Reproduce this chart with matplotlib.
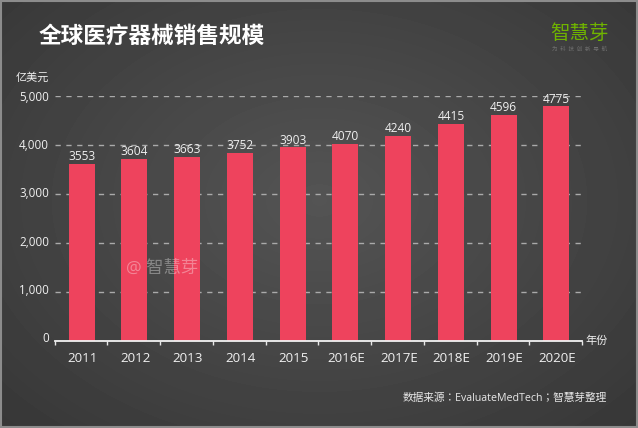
#!/usr/bin/env python3
import numpy as np
import matplotlib
matplotlib.use("Agg")
import matplotlib.pyplot as plt
from matplotlib.transforms import ScaledTranslation

plt.rcParams['font.family'] = ['Open Sans', 'Noto Sans CJK SC', 'DejaVu Sans']

years = ['2011', '2012', '2013', '2014', '2015', '2016E', '2017E', '2018E', '2019E', '2020E']
bar_heights = [3610, 3710, 3760, 3840, 3950, 4025, 4188, 4434, 4611, 4789]
bar_labels = ['3553', '3604', '3663', '3752', '3903', '4070', '4240', '4415', '4596', '4775']
y_ticks = [0, 1000, 2000, 3000, 4000, 5000]

W, H = 638, 428
fig = plt.figure(figsize=(W / 100, H / 100), dpi=100)

# background, radial grey gradient
bg = fig.add_axes([0, 0, 1, 1])
yy, xx = np.mgrid[0:H, 0:W]
r = np.sqrt(((xx - 319) / 319.0) ** 2 + ((yy - 200) / 228.0) ** 2) / 1.414
grey = 0.33 - 0.115 * np.clip(r, 0, 1)
bg.imshow(grey, cmap='gray', vmin=0, vmax=1, aspect='auto', extent=[0, W, H, 0])
bg.set_xlim(0, W)
bg.set_ylim(H, 0)
bg.axis('off')
bg.add_patch(plt.Rectangle((1, 1), W - 2, H - 2, fill=False, ec='#8c8c8c', lw=1.5))

ax = fig.add_axes([54.5 / W, 1 - 340.5 / H, (582 - 54.5) / W, (340.5 - 96) / H])
ax.patch.set_alpha(0)
x = np.arange(len(years))
ax.set_xlim(-0.5, len(years) - 0.5)
ax.set_ylim(0, 5000)
ax.set_yticks(y_ticks)
ax.set_yticklabels(['{:,}'.format(v) for v in y_ticks], color='#f0f0f0', fontsize=8.4)
ax.tick_params(axis='y', length=0, pad=4)
ax.set_axisbelow(True)
ax.yaxis.grid(True, color='#aaaaaa', lw=1, dashes=(3.8, 4))

# the value labels drift up a little towards the bottom of the scale
for v, lab in zip(y_ticks, ax.get_yticklabels()):
    lab.set_transform(lab.get_transform() + ScaledTranslation(0, (5000 - v) / 1000 * 0.7 / 100, fig.dpi_scale_trans))

bars = ax.bar(x + 0.015, bar_heights, width=0.49, color='#ee435d', zorder=3)
for b, lab in zip(bars, bar_labels):
    ax.annotate(lab, (b.get_x() + b.get_width() / 2, b.get_height()), xytext=(0, 0.5),
                textcoords='offset points', ha='center', va='bottom',
                color='#f0f0f0', fontsize=8.6, zorder=4)

ax.set_xticks(x + 0.03)
ax.set_xticklabels(years, color='#f0f0f0', fontsize=9.6)
ax.set_xticks(np.arange(-0.5, len(years)), minor=True)
ax.tick_params(axis='x', which='major', length=0, pad=8)
ax.tick_params(axis='x', which='minor', length=3, width=1, color='#e8e8e8')
for s in ['top', 'right', 'left']:
    ax.spines[s].set_visible(False)
ax.spines['bottom'].set_color('#f2f2f2')
ax.spines['bottom'].set_linewidth(1.3)
ax.spines['bottom'].set_zorder(5)

def px_text(px, py, s, **kw):
    fig.text(px / W, 1 - py / H, s, **kw)

px_text(39, 37, '全球医疗器械销售规模', color='white', fontsize=16.3, fontweight='bold', va='center')
px_text(16, 78, '亿美元', color='#f0f0f0', fontsize=8, va='center')
px_text(585, 341, '年份', color='#f0f0f0', fontsize=8, va='center')
px_text(403, 399, '数据来源：EvaluateMedTech；智慧芽整理', color='#e8e8e8', fontsize=7.7, va='center',
        family=['Open Sans', 'Noto Sans CJK TC'])
px_text(550, 34, '智慧芽', color='#6fb300', fontsize=14, fontweight='medium', va='center')
px_text(552, 49, '  '.join('为科技创新导航'), color='#6e6e6e', fontsize=4, va='center')
px_text(126, 269, '@ 智慧芽', color='white', alpha=0.35, fontsize=12.5, va='center')

fig.savefig('out.png', dpi=100)
